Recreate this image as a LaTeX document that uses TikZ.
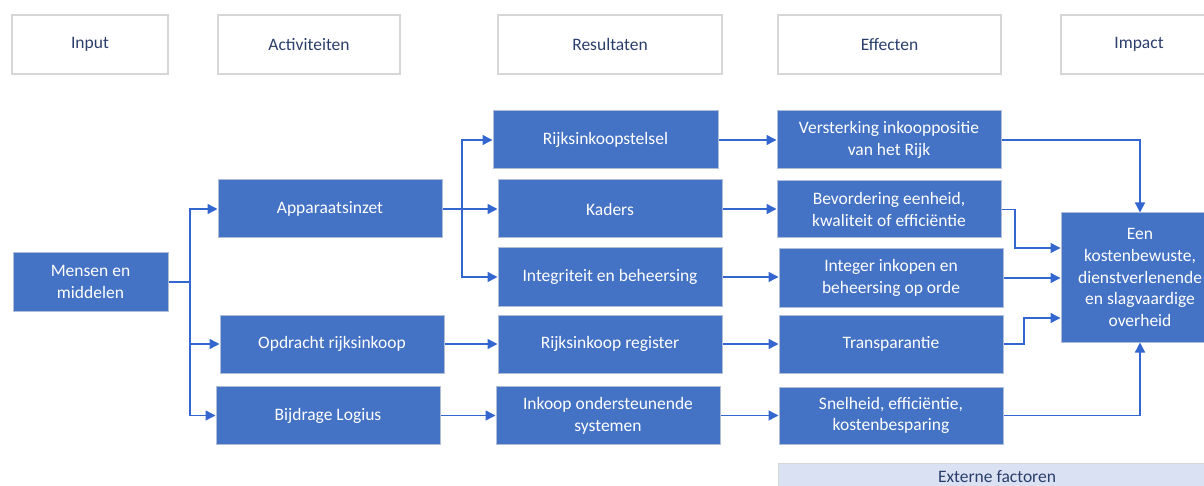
\documentclass[tikz,border=0pt]{standalone}
\usepackage{fontspec}
\setmainfont{Carlito}
\usetikzlibrary{arrows.meta,calc}
\definecolor{boxblue}{HTML}{4472C4}
\definecolor{boxedge}{HTML}{B0BDD9}
\definecolor{linkblue}{HTML}{3466CF}
\definecolor{headtext}{HTML}{2B3E6B}
\definecolor{headedge}{HTML}{D6D6D6}
\definecolor{extfill}{HTML}{DAE1F3}
\begin{document}
\begin{tikzpicture}[x=1pt,y=-1pt,
  every node/.style={font=\fontsize{17.5}{21.8}\selectfont},
  head/.style={draw=headedge,line width=1.2pt,fill=white,text=headtext,minimum height=59pt,inner sep=0pt},
  bbox/.style={draw=boxedge,line width=1pt,fill=boxblue,text=white,align=center,minimum height=58pt,minimum width=224pt,inner sep=0pt},
  link/.style={draw=linkblue,line width=1.4pt,-{Triangle[length=10pt,width=10pt]}},
  plain/.style={draw=linkblue,line width=1.4pt}]
\useasboundingbox (0,0) rectangle (1204,486);
% headers
\node[head,minimum width=156pt] (hIn) at (90,44.5) {Input};
\node[head,minimum width=182pt] (hAct) at (309,44.5) {Activiteiten};
\node[head,minimum width=224pt] (hRes) at (610,44.5) {Resultaten};
\node[head,minimum width=223pt] (hEff) at (889.5,44.5) {Effecten};
\node[head,minimum width=156pt] (hImp) at (1139,44.5) {Impact};
% input
\node[bbox,minimum width=155pt] (mm) at (90.5,282) {Mensen en\\middelen};
% activities
\node[bbox] (app) at (330,209) {Apparaatsinzet};
\node[bbox] (opd) at (332,344) {Opdracht rijksinkoop};
\node[bbox] (bij) at (328,415.5) {Bijdrage Logius};
% results
\node[bbox,minimum width=225pt] (rst) at (605.5,140) {Rijksinkoopstelsel};
\node[bbox] (kad) at (610,209) {Kaders};
\node[bbox] (int) at (610,277) {Integriteit en beheersing};
\node[bbox] (reg) at (610,344) {Rijksinkoop register};
\node[bbox] (ios) at (608,415.5) {Inkoop ondersteunende\\systemen};
% effects
\node[bbox] (ver) at (889,140) {Versterking inkooppositie\\van het Rijk};
\node[bbox,minimum height=57pt] (bev) at (889,209.5) {Bevordering eenheid,\\kwaliteit of efficiëntie};
\node[bbox] (ige) at (891,278) {Integer inkopen en\\beheersing op orde};
\node[bbox] (tra) at (891,344) {Transparantie};
\node[bbox,minimum height=57pt] (sne) at (891,415.5) {Snelheid, efficiëntie,\\kostenbesparing};
% impact
\node[bbox,minimum width=158pt,minimum height=129pt] (imp) at (1140,277.5) {Een\\kostenbewuste,\\dienstverlenende\\en slagvaardige\\overheid};
% external
\draw[draw=headedge,line width=1pt,fill=extfill] (778,463) rectangle (1216,500);
\node[text=headtext,anchor=base,inner sep=0pt] (ext) at (997,482) {Externe factoren};
% connectors: input -> activities
\coordinate (j1) at (190,282);
\draw[plain] (mm.east) -- (j1);
\draw[link] (j1) |- (app.west);
\draw[link] (j1) |- (opd.west);
\draw[link] (j1) |- (bij.west);
% activities -> results
\coordinate (j2) at (462,209);
\draw[plain] (app.east) -- (j2);
\draw[link] (j2) |- (rst.west);
\draw[link] (j2) -- (kad.west);
\draw[link] (j2) |- (int.west);
\draw[link] (opd.east) -- (reg.west);
\draw[link] (bij.east) -- (ios.west);
% results -> effects
\draw[link] (rst.east) -- (rst.east -| ver.west);
\draw[link] (kad.east) -- (kad.east -| bev.west);
\draw[link] (int.east) -- (int.east -| ige.west);
\draw[link] (reg.east) -- (reg.east -| tra.west);
\draw[link] (ios.east) -- (ios.east -| sne.west);
% effects -> impact
\draw[link] (ver.east) -| (imp.north);
\coordinate (k1) at (1015,248);
\draw[link] (bev.east) -| (k1) -- (k1 -| imp.west);
\draw[link] (ige.east) -- (ige.east -| imp.west);
\coordinate (k2) at (1024,318);
\draw[link] (tra.east) -| (k2) -- (k2 -| imp.west);
\draw[link] (sne.east) -| (imp.south);
\end{tikzpicture}
\end{document}
